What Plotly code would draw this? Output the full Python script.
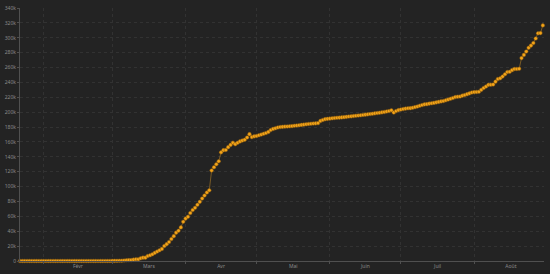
import plotly.graph_objects as go
import pandas as pd

start_date = "2020-01-22"
jan = [0, 0, 0, 3, 3, 3, 4, 5, 5, 5]
feb = [6, 6, 6, 6, 6, 6, 6, 11, 11, 11, 11, 11, 11, 11, 12, 12, 12, 12, 12, 12,
       12, 12, 12, 12, 14, 18, 38, 57, 100]
mar = [130, 191, 204, 288, 380, 656, 959, 1136, 1219, 1794, 2293, 2293, 3681, 4496,
       4532, 6683, 7715, 9124, 10970, 12758, 14463, 16243, 20123, 22622, 25600,
       29551, 33402, 38105, 40708, 45170, 52827]
apr = [57000, 59500, 64500, 68500, 71500, 75500, 79500, 84000, 88000, 92000, 95000,
       121600, 126000, 130000, 134000, 146000, 149000, 149200, 153000, 156000,
       159000, 157000, 159000, 160700, 162000, 163000, 166000, 170500, 166500, 167500]
may = [168000, 169000, 170000, 171000, 172000, 173500, 176000, 177500, 178500,
       179500, 180000, 180300, 180600, 180800, 181000, 181300, 181700, 182100,
       182500, 182900, 183300, 183800, 184200, 184500, 184700, 185000, 185300,
       188300, 189500, 190600, 191000]
jun = [191400, 191800, 192200, 192500, 192700, 193000, 193300, 193700, 194100,
       194400, 194800, 195200, 195500, 195800, 196300, 196700, 197100, 197500,
       197900, 198400, 198800, 199300, 199800, 200300, 201000, 201500, 202500,
       199500, 201500, 202800]
jul = [203500, 204200, 204800, 205200, 205400, 206000, 206800, 207700, 208700,
       209600, 210500, 210800, 211500, 212000, 212500, 213200, 213800, 214500,
       215000, 216000, 217000, 218000, 219000, 220300, 220800, 221000, 222200,
       223000, 224200, 225300, 226500]
aug = [227000, 227200, 227500, 230000, 232500, 234500, 236700, 236900, 237200,
       241000, 244500, 245500, 248000, 251000, 254000, 254300, 256500, 258000,
       258100, 258300, 272700, 277000, 281500, 286500, 289500, 293000, 299000,
       306000, 306300, 316600]

values = jan + feb + mar + apr + may + jun + jul + aug
dates = pd.date_range(start_date, periods=len(values), freq="D")

month_starts = ["2020-02-01", "2020-03-01", "2020-04-01", "2020-05-01",
                "2020-06-01", "2020-07-01", "2020-08-01"]
month_labels = ["Févr", "Mars", "Avr", "Mai", "Juin", "Juil", "Août"]
month_ends = ["2020-03-01", "2020-04-01", "2020-05-01", "2020-06-01",
              "2020-07-01", "2020-08-01", "2020-09-01"]
mids = [pd.Timestamp(a) + (pd.Timestamp(b) - pd.Timestamp(a)) / 2
        for a, b in zip(month_starts, month_ends)]

fig = go.Figure()
fig.add_trace(go.Scatter(
    x=dates, y=values, mode="lines+markers",
    line=dict(color="rgba(190,135,40,0.55)", width=1),
    marker=dict(color="#f3a418", size=3.6, line=dict(color="#8a5a10", width=0.5)),
    cliponaxis=False, hoverinfo="x+y",
))

grid = "#323232"
axis = "#505050"
fig.update_layout(
    width=550, height=274,
    margin=dict(l=17, r=6, t=5, b=11),
    paper_bgcolor="#232323", plot_bgcolor="#232323",
    showlegend=False,
    font=dict(family="Noto Sans, DejaVu Sans, sans-serif", size=5, color="#8a8a8a"),
    xaxis=dict(
        range=["2020-01-22", "2020-08-30 12:00"],
        tickmode="array", tickvals=mids, ticktext=month_labels,
        showgrid=False, ticks="", showline=True, linecolor=axis, linewidth=1,
        zeroline=False, tickfont=dict(size=5, color="#8a8a8a"),
        minor=dict(tickmode="array", tickvals=month_starts, showgrid=True,
                   gridcolor=grid, griddash="dot", gridwidth=1,
                   ticks="outside", ticklen=2, tickcolor=axis),
    ),
    yaxis=dict(
        range=[0, 340000], dtick=20000, tick0=0, tickformat="~s",
        showgrid=True, gridcolor=grid, griddash="dot", gridwidth=1,
        ticks="outside", ticklen=2, tickcolor=axis,
        showline=True, linecolor=axis, linewidth=1, zeroline=False,
        tickfont=dict(size=5, color="#8a8a8a"),
    ),
)

fig.write_html("out.html")
